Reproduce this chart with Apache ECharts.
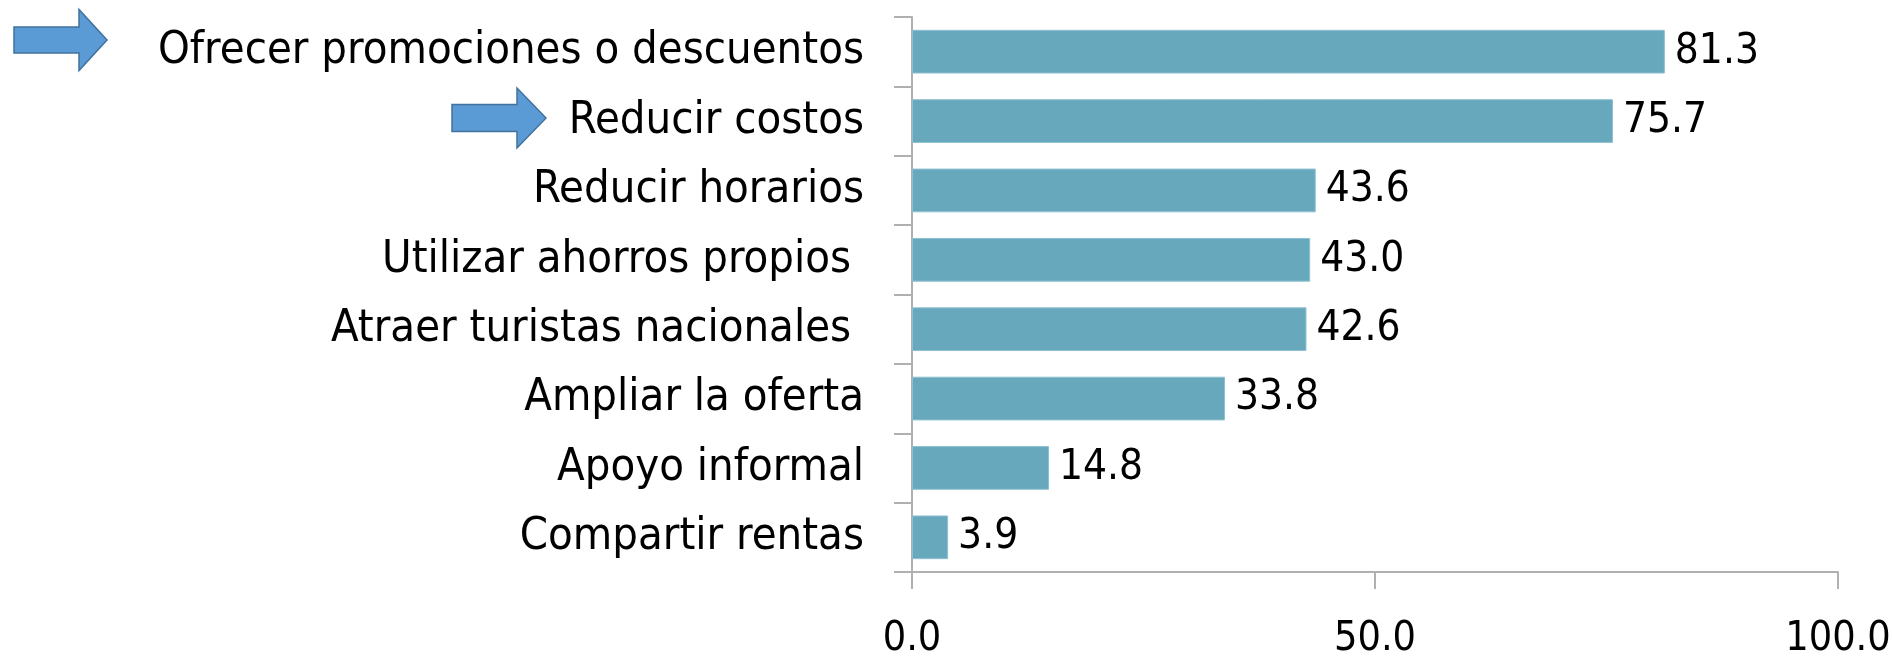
<!DOCTYPE html>
<html>
<head>
<meta charset="utf-8">
<script src="https://cdn.jsdelivr.net/npm/echarts@6/dist/echarts.min.js"></script>
<style>
html,body{margin:0;padding:0;background:#fff;}
#chart{width:1893px;height:659px;}
</style>
</head>
<body>
<div id="chart"></div>
<script>
const categories = [
  "Ofrecer promociones o descuentos",
  "Reducir costos",
  "Reducir horarios",
  "Utilizar ahorros propios ",
  "Atraer turistas nacionales ",
  "Ampliar la oferta",
  "Apoyo informal",
  "Compartir rentas"
];
const values = [81.3, 75.7, 43.6, 43.0, 42.6, 33.8, 14.8, 3.9];
const xTicks = [0, 50, 100];

const FONT = "'DejaVu Sans Condensed', 'Liberation Sans Narrow', sans-serif";
const chart = echarts.init(document.getElementById('chart'), null, {renderer: 'canvas'});

function arrowPoints(x0, yc, shaftLen, headLen, shaftH, headH) {
  return [
    [x0, yc - shaftH / 2],
    [x0 + shaftLen, yc - shaftH / 2],
    [x0 + shaftLen, yc - headH / 2],
    [x0 + shaftLen + headLen, yc],
    [x0 + shaftLen, yc + headH / 2],
    [x0 + shaftLen, yc + shaftH / 2],
    [x0, yc + shaftH / 2]
  ];
}

chart.setOption({
  backgroundColor: '#ffffff',
  animation: false,
  grid: {left: 912, right: 55, top: 17, bottom: 87, containLabel: false, outerBoundsMode: 'none'},
  xAxis: {
    type: 'value',
    min: xTicks[0],
    max: xTicks[xTicks.length - 1],
    interval: 50,
    axisLine: {show: true, lineStyle: {color: '#b0b0b0', width: 2}},
    axisTick: {show: true, length: 17, lineStyle: {color: '#b0b0b0', width: 2}},
    splitLine: {show: false},
    axisLabel: {
      margin: 47,
      fontFamily: FONT,
      fontSize: 41,
      color: '#000',
      formatter: v => v.toFixed(1)
    }
  },
  yAxis: {
    type: 'category',
    inverse: true,
    data: categories,
    axisLine: {show: true, lineStyle: {color: '#b0b0b0', width: 2}},
    axisTick: {show: true, length: 18, interval: 0, lineStyle: {color: '#b0b0b0', width: 2}},
    axisLabel: {
      interval: 0,
      margin: 48,
      fontFamily: FONT,
      fontSize: 45,
      color: '#000'
    }
  },
  series: [{
    type: 'bar',
    data: values,
    barCategoryGap: '37%',
    itemStyle: {color: '#67a8bd', borderColor: '#8fc0d0', borderWidth: 1},
    label: {
      show: true,
      position: 'right',
      distance: 10,
      fontFamily: FONT,
      fontSize: 42,
      color: '#000',
      formatter: p => p.value.toFixed(1)
    }
  }],
  graphic: [
    {
      type: 'polygon',
      shape: {points: arrowPoints(14, 40, 65, 28, 26, 61)},
      style: {fill: '#5b9bd5', stroke: '#41719c', lineWidth: 1.5}
    },
    {
      type: 'polygon',
      shape: {points: arrowPoints(452, 118, 65, 29, 27, 60)},
      style: {fill: '#5b9bd5', stroke: '#41719c', lineWidth: 1.5}
    }
  ]
});
</script>
</body>
</html>
